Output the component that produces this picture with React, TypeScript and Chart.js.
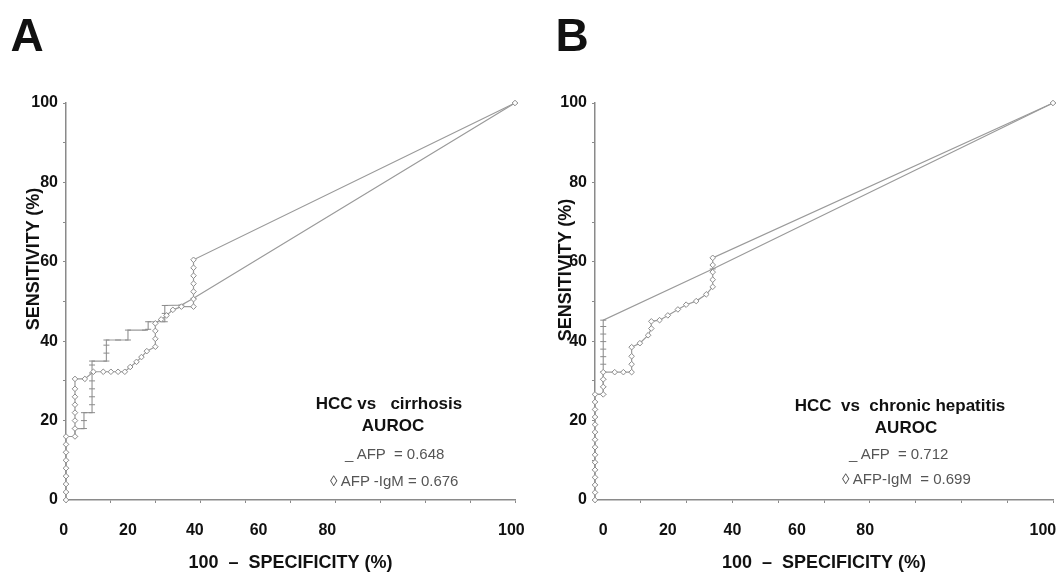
import React, { useEffect, useRef } from 'react';
import { Chart, registerables } from 'chart.js';

Chart.register(...registerables);

const FONT = '"Liberation Sans", Arial, Helvetica, sans-serif';

// ---- tick labels ----
const xTickLabels = ['0', '20', '40', '60', '80', '100'];
// axis values (0-100 scale of the drawn axis) at which the printed x labels sit
const xTickLabelValuesA = [-0.5, 13.8, 28.7, 42.9, 58.2, 99.2];
const xTickLabelValuesB = [1.8, 15.9, 30.0, 44.1, 59.0, 97.8];
const yLabelEvery = 20;

// ---- panel A : HCC vs cirrhosis ----
const afpA: [number, number][] = [
  [0, 0], [0, 2], [0, 4], [0, 6], [0, 8], [0, 10], [0, 12], [0, 14], [0, 16],
  [2, 16], [2, 18], [4, 18], [4, 20], [4, 22], [5.8, 22], [5.8, 24], [5.8, 26], [5.8, 28],
  [5.8, 30], [5.8, 32], [5.8, 34], [5.8, 35], [9, 35], [9, 37], [9, 39], [9, 40.3],
  [11.6, 40.3], [13.8, 40.3], [13.8, 42.8], [17.6, 42.8], [18.3, 43], [18.3, 44.9],
  [22, 44.9], [22, 47], [22, 49], [25.7, 49.1], [28.4, 50.8], [100, 100],
];
const igmA: [number, number][] = [
  [0, 0], [0, 2], [0, 4], [0, 6], [0, 8], [0, 10], [0, 12], [0, 14], [0, 16],
  [2, 16], [2, 18], [2, 20], [2, 22], [2, 24], [2, 26], [2, 28], [2, 30.5], [4.2, 30.5],
  [6.1, 32.3], [8.3, 32.3], [10, 32.3], [11.6, 32.3], [13.1, 32.3], [14.3, 33.5],
  [15.7, 34.8], [16.8, 36], [18, 37.5], [19.9, 38.6], [19.9, 40.6], [19.9, 42.6],
  [19.9, 44.5], [21.2, 45.5], [22.4, 46.5], [23.8, 47.9], [25.7, 48.7], [28.4, 48.7],
  [28.4, 50.6], [28.4, 52.5], [28.4, 54.5], [28.4, 56.5], [28.4, 58.5], [28.4, 60.5], [100, 100],
];
const legendA = ['HCC vs   cirrhosis', 'AUROC', '_ AFP  = 0.648', '\u25CA AFP -IgM = 0.676'];

// ---- panel B : HCC vs chronic hepatitis ----
const afpB: [number, number][] = [
  [0, 0], [0, 1.9], [0, 3.8], [0, 5.7], [0, 7.6], [0, 9.5], [0, 11.4], [0, 13.3], [0, 15.2],
  [0, 17.1], [0, 19], [0, 20.9], [0, 22.8], [0, 24.7], [0, 26.6],
  [1.8, 26.6], [1.8, 28.5], [1.8, 30.4], [1.8, 32.3], [1.8, 34.2], [1.8, 36.1], [1.8, 38],
  [1.8, 39.9], [1.8, 41.8], [1.8, 43.7], [1.8, 45.3], [25.7, 58.2], [100, 100],
];
const igmB: [number, number][] = [
  [0, 0], [0, 1.9], [0, 3.8], [0, 5.7], [0, 7.6], [0, 9.5], [0, 11.4], [0, 13.3], [0, 15.2],
  [0, 17.1], [0, 19], [0, 20.9], [0, 22.8], [0, 24.7], [0, 26.6],
  [1.8, 26.6], [1.8, 28.5], [1.8, 30.4], [1.8, 32.2], [4.3, 32.2], [6.2, 32.2], [8, 32.2],
  [8, 34.2], [8, 36.2], [8, 38.5], [9.8, 39.5], [11.6, 41.5], [12.3, 43.2], [12.3, 45],
  [14.1, 45.3], [15.9, 46.5], [18.1, 48], [19.9, 49.2], [22.1, 50.1], [24.3, 51.8],
  [25.7, 53.7], [25.7, 55.5], [25.7, 57.4], [25.7, 59.2], [25.7, 61], [100, 100],
];
const legendB = ['HCC  vs  chronic hepatitis', 'AUROC', '_ AFP  = 0.712', '\u25CA AFP-IgM  = 0.699'];

const xTitle = '100  \u2013  SPECIFICITY (%)';
const yTitle = 'SENSITIVITY (%)';

const LINE = '#9a9a9a';
const MARK = '#8c8c8c';
const AXIS = '#8a8a8a';

type PanelProps = {
  left: number;
  afp: [number, number][];
  igm: [number, number][];
  labelValues: number[];
  padRight: number;
};

function Panel({ left, afp, igm, labelValues, padRight }: PanelProps) {
  const ref = useRef<HTMLCanvasElement>(null);
  useEffect(() => {
    const chart = new Chart(ref.current as HTMLCanvasElement, {
      type: 'scatter',
      data: {
        datasets: [
          {
            label: 'AFP-IgM',
            data: igm.map(([x, y]) => ({ x, y })),
            showLine: true,
            borderColor: LINE,
            borderWidth: 1.2,
            pointStyle: 'rectRot',
            pointRadius: 2.8,
            pointBackgroundColor: '#ffffff',
            pointBorderColor: MARK,
            pointBorderWidth: 1,
            clip: false,
            xAxisID: 'x',
            yAxisID: 'y',
          } as any,
          {
            label: 'AFP',
            data: afp.map(([x, y]) => ({ x, y })),
            showLine: true,
            borderColor: LINE,
            borderWidth: 1.2,
            pointStyle: 'line',
            pointRadius: 3,
            pointBorderColor: MARK,
            pointBorderWidth: 1,
            clip: false,
            xAxisID: 'x',
            yAxisID: 'y',
          } as any,
        ],
      },
      options: {
        responsive: false,
        animation: false,
        events: [],
        layout: { padding: { top: 103, right: padRight, left: 0, bottom: 0 } },
        plugins: { legend: { display: false }, tooltip: { enabled: false } },
        scales: {
          x: {
            type: 'linear',
            position: 'bottom',
            min: 0,
            max: 100,
            ticks: { stepSize: 10, display: false },
            grid: { display: true, drawOnChartArea: false, drawTicks: true, tickLength: 3, color: AXIS },
            border: { display: true, color: AXIS, width: 1.5 },
            afterFit: (s: any) => {
              s.height = 3;
              s.paddingLeft = 0;
              s.paddingRight = 0;
            },
          },
          xl: {
            type: 'linear',
            position: 'bottom',
            min: 0,
            max: 100,
            grid: { display: false },
            border: { display: false },
            afterBuildTicks: (s: any) => {
              s.ticks = labelValues.map((v) => ({ value: v }));
            },
            ticks: {
              autoSkip: false,
              maxRotation: 0,
              padding: 10,
              color: '#111',
              font: { family: FONT, size: 16, weight: 'bold' },
              callback: (_v: any, i: number) => xTickLabels[i],
            },
            title: {
              display: true,
              text: xTitle,
              color: '#111',
              font: { family: FONT, size: 18, weight: 'bold' },
              padding: { top: 0, bottom: 1 },
            },
            afterFit: (s: any) => {
              s.height = 72;
              s.paddingLeft = 0;
              s.paddingRight = 0;
            },
          },
          y: {
            type: 'linear',
            position: 'left',
            min: 0,
            max: 100,
            ticks: {
              stepSize: 10,
              padding: 5,
              color: '#111',
              font: { family: FONT, size: 16, weight: 'bold' },
              callback: (v: any) => (Number(v) % yLabelEvery === 0 ? String(v) : ''),
            },
            grid: { display: true, drawOnChartArea: false, drawTicks: true, tickLength: 3, color: AXIS },
            border: { display: true, color: AXIS, width: 1.5 },
            afterFit: (s: any) => {
              s.width = 66;
              s.paddingTop = 0;
              s.paddingBottom = 0;
            },
          },
        },
      } as any,
    });
    return () => chart.destroy();
  }, []);
  return (
    <canvas
      ref={ref}
      width={529}
      height={575}
      style={{ position: 'absolute', left, top: 0, width: 529, height: 575 }}
    />
  );
}

function Txt(props: {
  x: number;
  y: number;
  text: string;
  size: number;
  bold?: boolean;
  color?: string;
  anchor?: 'center' | 'left';
  rotate?: boolean;
}) {
  const { x, y, text, size, bold, color, anchor = 'center', rotate } = props;
  const tx = anchor === 'center' ? '-50%' : '0';
  return (
    <div
      style={{
        position: 'absolute',
        left: x,
        top: y,
        transform: `translate(${tx}, -50%)${rotate ? ' rotate(-90deg)' : ''}`,
        transformOrigin: rotate ? 'center center' : undefined,
        fontFamily: FONT,
        fontSize: size,
        fontWeight: bold ? 'bold' : 'normal',
        color: color || '#111',
        whiteSpace: 'pre',
        lineHeight: 1,
      }}
    >
      {text}
    </div>
  );
}

export default function App() {
  return (
    <div
      style={{
        position: 'fixed',
        left: 0,
        top: 0,
        width: 1058,
        height: 575,
        background: '#ffffff',
        overflow: 'hidden',
      }}
    >
      <Panel left={0} afp={afpA} igm={igmA} labelValues={xTickLabelValuesA} padRight={14} />
      <Panel left={529} afp={afpB} igm={igmB} labelValues={xTickLabelValuesB} padRight={3} />

      <Txt x={27} y={35} text="A" size={46} bold />
      <Txt x={572} y={35} text="B" size={46} bold />

      <Txt x={33} y={259} text={yTitle} size={18} bold rotate />
      <Txt x={565} y={270} text={yTitle} size={18} bold rotate />

      <Txt x={389} y={403} text={legendA[0]} size={17} bold />
      <Txt x={393} y={425} text={legendA[1]} size={17} bold />
      <Txt x={345} y={453} text={legendA[2]} size={15} color="#555" anchor="left" />
      <Txt x={330} y={480} text={legendA[3]} size={15} color="#555" anchor="left" />

      <Txt x={900} y={405} text={legendB[0]} size={17} bold />
      <Txt x={906} y={427} text={legendB[1]} size={17} bold />
      <Txt x={849} y={453} text={legendB[2]} size={15} color="#555" anchor="left" />
      <Txt x={842} y={478} text={legendB[3]} size={15} color="#555" anchor="left" />
    </div>
  );
}
